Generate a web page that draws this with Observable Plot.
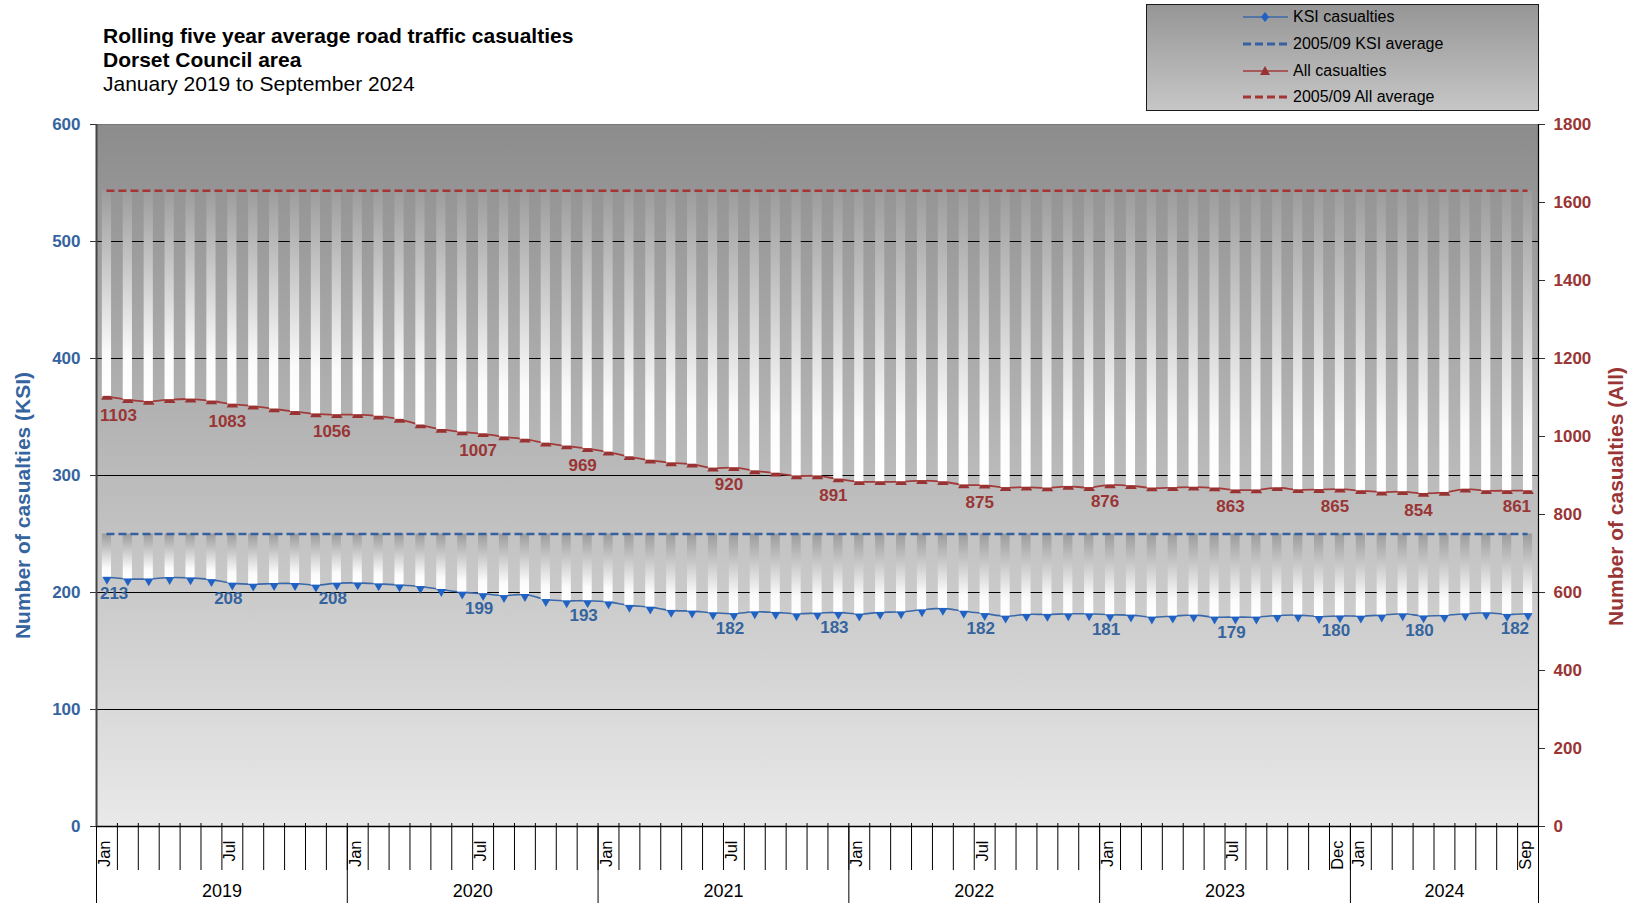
<!DOCTYPE html>
<html><head><meta charset="utf-8">
<script src="https://cdn.jsdelivr.net/npm/d3@7"></script>
<script src="https://cdn.jsdelivr.net/npm/@observablehq/plot@0.6"></script>
<style>
body{margin:0;background:#fff;font-family:"Liberation Sans",Arial,sans-serif;}
#wrap{position:relative;width:1633px;height:903px;overflow:hidden;}
#header{position:relative;height:112px;}
#title{position:absolute;left:103px;top:24px;font-size:21px;line-height:24px;color:#000;white-space:nowrap;}
#title b{font-weight:bold;}
#legend{position:absolute;left:1146px;top:4px;width:391px;height:105px;border:1px solid #1a1a1a;background:linear-gradient(#969696,#c6c6c6);}
.item{position:absolute;left:95px;height:22px;display:flex;align-items:center;font-size:16px;color:#000;white-space:nowrap;}
.item svg{margin-right:4px;}
#chart svg{display:block;}
</style></head>
<body>
<svg width="0" height="0" style="position:absolute">
<defs>
<linearGradient id="bg" x1="0" y1="0" x2="0" y2="1"><stop offset="0" stop-color="#8c8c8c"/><stop offset="1" stop-color="#e9e9e9"/></linearGradient>
<linearGradient id="barGrad" x1="0" y1="0" x2="0" y2="1"><stop offset="0" stop-color="#9c9c9c"/><stop offset="0.8" stop-color="#fbfbfb"/><stop offset="1" stop-color="#ffffff"/></linearGradient>
</defs></svg>
<div id="wrap">
<div id="header">
<div id="title"><b>Rolling five year average road traffic casualties</b><br><b>Dorset Council area</b><br>January 2019 to September 2024</div>
<div id="legend"></div>
</div>
<div id="chart"></div>
</div>
<script>
// ---- data ----
const monthNames = ["Jan","Feb","Mar","Apr","May","Jun","Jul","Aug","Sep","Oct","Nov","Dec"];
const years = ["2019","2020","2021","2022","2023","2024"];
const monthsPerYear = [12,12,12,12,12,9];
const ksi = [213,211.6,211.6,212.8,212.5,211,208,207.1,207.7,207.7,
  206.3,208,208.2,207.4,206.5,205.1,202.6,200.3,199,197.4,
  198.3,194,192.9,193,192,189,187.5,184.7,184.1,182.7,
  182,183.5,183,181.8,182.4,183,181.6,183,183.5,185.2,
  186.4,184,182,179.8,181.3,181.3,181.8,181.8,181,180.7,
  179,179.8,180.7,179,179,179,180.4,180.7,179.5,180,
  179.8,180.7,181.8,180,180.4,181.8,182.7,181.3,182];
const allCas = [1103,1094.5,1090,1094.5,1096,1091,1083,1078,1070.5,1064,
  1058,1056,1056,1052,1044,1029.5,1018,1011.5,1007,999,
  993,983,975.6,969,960,948,939.3,932.5,929,919,
  920,912,906,899,899,891,884,884,884,887,
  884,876,875,869,870,868,872,869,876,874,
  868,869,870,868,863,863,868.6,863.4,864,865,
  861,857.5,858.4,854,856.6,865,861,861,861];
const ksiAvg = 250;
const allAvg = 1630;
const labelIdx = [0,6,11,18,23,30,35,42,48,54,59,63,68];
const monthTickIdx = [0,6,12,18,24,30,36,42,48,54,59,60,68];
const ksiTicks = [0,100,200,300,400,500,600];
const allTicks = [0,200,400,600,800,1000,1200,1400,1600,1800];
const gridKsi = [100,200,300,400,500];

// ---- colours ----
const blueText = "#35649e", redText = "#9a3535";
const blueLine = "#3a68a8", blueMark = "#1f62c4";
const redLine = "#a33b3b", redMark = "#993232";

// ---- legend ----
const legendItems = [
  {label:"KSI casualties", color:blueLine, dash:null, sym:"diamond", mc:blueMark},
  {label:"2005/09 KSI average", color:"#3561a0", dash:"8,4", sym:null},
  {label:"All casualties", color:redLine, dash:null, sym:"triangle", mc:redMark},
  {label:"2005/09 All average", color:"#a33535", dash:"8,4", sym:null}
];
const lg = document.getElementById("legend");
legendItems.forEach((it, k) => {
  const d = document.createElement("div");
  d.className = "item";
  d.style.top = (1 + k*26.8) + "px";
  let sym = "";
  if (it.sym === "diamond") sym = `<path d="M23,6 L27,11 L23,16 L19,11Z" fill="${it.mc}"/>`;
  if (it.sym === "triangle") sym = `<path d="M23,6 L28,15 L18,15Z" fill="${it.mc}"/>`;
  d.innerHTML = `<svg width="47" height="22"><line x1="1" x2="46" y1="11" y2="11" stroke="${it.color}" stroke-width="${it.dash ? 3 : 1.6}" ${it.dash ? `stroke-dasharray="${it.dash}"` : ""}/>${sym}</svg><span>${it.label}</span>`;
  lg.appendChild(d);
});

// ---- rows ----
const rows = ksi.map((v, i) => ({i, ksi: v, all: allCas[i]}));
const nMonths = rows.length;
let acc = 0;
const yearRows = years.map((y, k) => { const s = acc; acc += monthsPerYear[k]; return {year: y, start: s, end: acc}; });
const yearBounds = [0, ...yearRows.map(d => d.end)];
const labelRows = labelIdx.map(i => rows[i]);
const first = labelRows.slice(0,1), mid = labelRows.slice(1,-1), last = labelRows.slice(-1);
const cx = d => d.i + 0.5;
const txt = {fontSize: 17, fontWeight: "bold"};
const ksiText = d => String(Math.round(d.ksi));
const allText = d => String(Math.round(d.all));

const marks = [
  Plot.frame({fill: "url(#bg)", stroke: "#777"}),
  Plot.ruleY(gridKsi, {stroke: "#000", strokeWidth: 1}),
  Plot.line(rows, {x: cx, y: "ksi", stroke: blueLine, strokeWidth: 1.6, curve: "catmull-rom"}),
  Plot.dot(rows, {x: cx, y: "ksi", symbol: "diamond", r: 4.5, fill: blueMark, stroke: null}),
  Plot.line(rows, {x: cx, y: d => d.all / 3, stroke: redLine, strokeWidth: 1.8, curve: "catmull-rom"}),
  Plot.dot(rows, {x: cx, y: d => d.all / 3, symbol: "triangle", r: 4.3, fill: redMark, stroke: null}),
  Plot.rect(rows, {x1: d => d.i + 0.28, x2: d => d.i + 0.72, y1: allAvg / 3, y2: d => d.all / 3, fill: "url(#barGrad)"}),
  Plot.rect(rows, {x1: d => d.i + 0.28, x2: d => d.i + 0.72, y1: ksiAvg, y2: "ksi", fill: "url(#barGrad)"}),
  Plot.ruleY([allAvg / 3], {x1: 0.5, x2: nMonths - 0.5, stroke: "#a33535", strokeWidth: 2.6, strokeDasharray: "8,4"}),
  Plot.ruleY([ksiAvg], {x1: 0.5, x2: nMonths - 0.5, stroke: "#3561a0", strokeWidth: 2.6, strokeDasharray: "8,4"}),
  // axes
  Plot.axisX({ticks: d3.range(0, nMonths + 1), tickSize: 47, dy: -3, tickFormat: () => "", stroke: "#000", label: null}),
  Plot.axisX({ticks: yearBounds, tickSize: 90, tickFormat: () => "", stroke: "#000", label: null}),
  Plot.text(monthTickIdx, {x: i => i + 0.5, text: i => monthNames[i % 12], frameAnchor: "bottom", rotate: -90, textAnchor: "end", dy: 14, dx: 3, fontSize: 16.5, fill: "#000"}),
  Plot.text(yearRows, {x: d => (d.start + d.end) / 2, text: "year", frameAnchor: "bottom", dy: 70, fontSize: 18, fill: "#000"}),
  Plot.axisY({anchor: "left", ticks: ksiTicks, tickSize: 6, tickPadding: 10, ...txt, fill: blueText, stroke: "#333", label: null}),
  Plot.axisY({anchor: "right", ticks: allTicks.map(v => v / 3), tickFormat: v => String(Math.round(v * 3)), tickSize: 6, tickPadding: 9, ...txt, fill: redText, stroke: "#333", label: null}),
  Plot.ruleY([0], {stroke: "#000", strokeWidth: 1.5}),
  Plot.ruleX([0], {stroke: "#444", strokeWidth: 2}),
  Plot.ruleX([nMonths], {stroke: "#000", strokeWidth: 1.2}),
  Plot.text(["Number of casualties (KSI)"], {text: d => d, frameAnchor: "left", textAnchor: "middle", rotate: -90, dx: -73, dy: 30, fontSize: 21, fontWeight: "bold", fill: blueText}),
  Plot.text(["Number of casualties (All)"], {text: d => d, frameAnchor: "right", textAnchor: "middle", rotate: -90, dx: 78, dy: 21, fontSize: 21, fontWeight: "bold", fill: redText}),
  // data labels
  Plot.text(first, {x: cx, y: "ksi", text: ksiText, dy: 16, dx: -7, textAnchor: "start", ...txt, fill: blueText}),
  Plot.text(mid, {x: cx, y: "ksi", text: ksiText, dy: 15, dx: -4, ...txt, fill: blueText}),
  Plot.text(last, {x: cx, y: "ksi", text: ksiText, dy: 15, dx: 1, textAnchor: "end", ...txt, fill: blueText}),
  Plot.text(first, {x: cx, y: d => d.all / 3, text: allText, dy: 19, dx: -7, textAnchor: "start", ...txt, fill: redText}),
  Plot.text(mid, {x: cx, y: d => d.all / 3, text: allText, dy: 17, dx: -5, ...txt, fill: redText}),
  Plot.text(last, {x: cx, y: d => d.all / 3, text: allText, dy: 16, dx: 3, textAnchor: "end", ...txt, fill: redText})
];

const chart = Plot.plot({
  width: 1633, height: 791,
  marginTop: 12, marginBottom: 77, marginLeft: 96, marginRight: 95,
  x: {type: "linear", domain: [0, nMonths]},
  y: {domain: [0, 600]},
  style: {fontFamily: "'Liberation Sans', Arial, sans-serif", background: "transparent", overflow: "visible"},
  marks
});
document.getElementById("chart").appendChild(chart);
</script>
</body></html>
